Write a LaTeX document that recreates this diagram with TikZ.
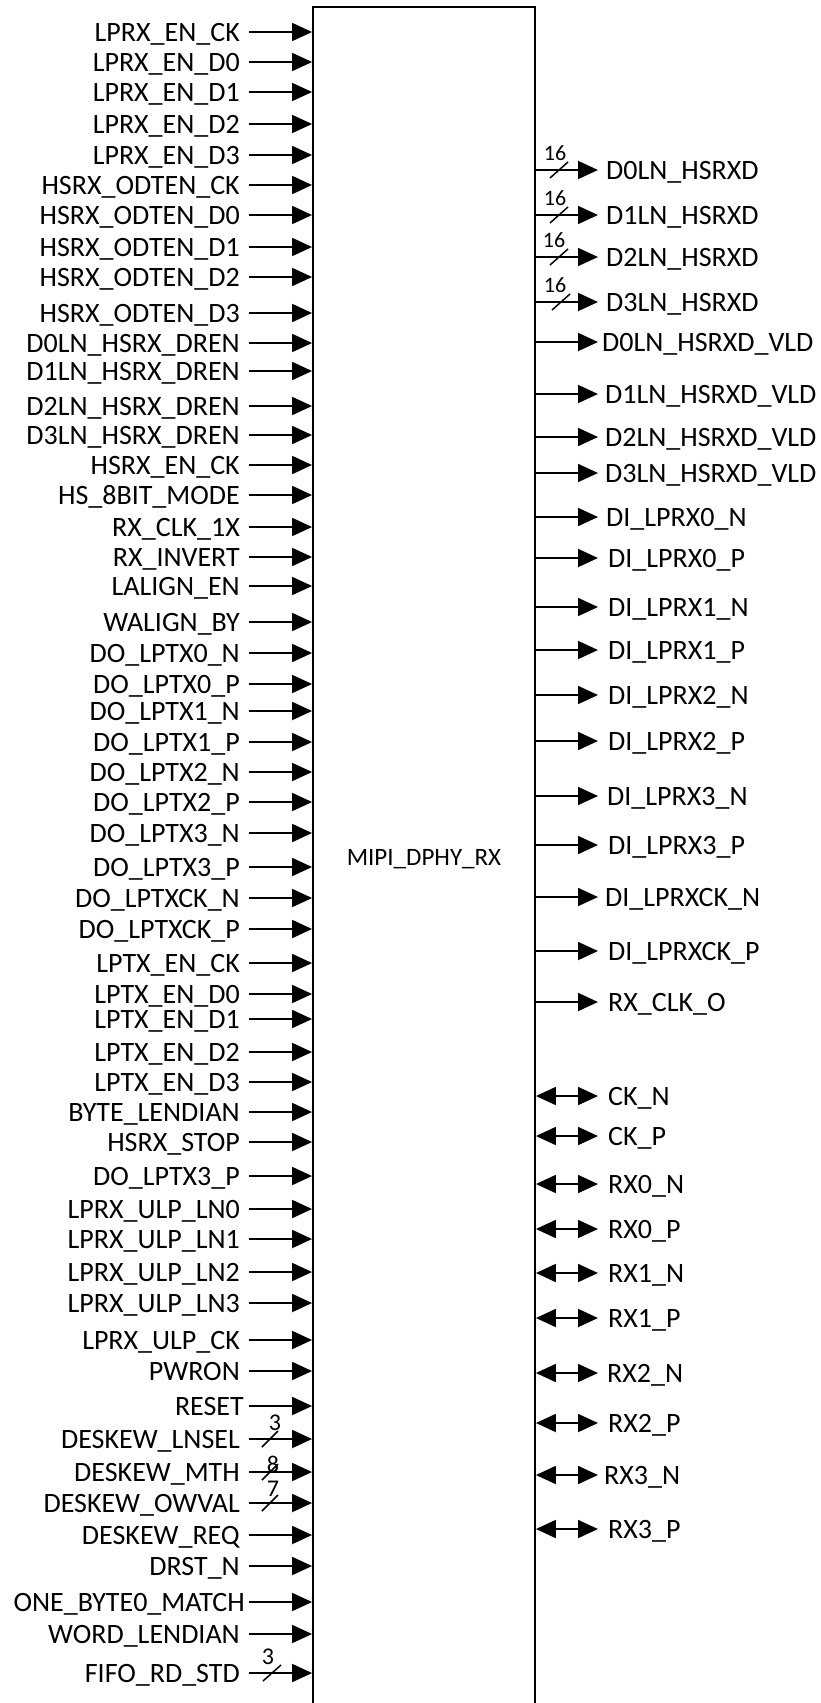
\documentclass[tikz,border=0pt]{standalone}
\usepackage{fontspec}
\setmainfont{Carlito}
\usepackage{tikz}
\usetikzlibrary{shapes,arrows,arrows.meta,positioning,calc}

\begin{document}
\begin{tikzpicture}[
    x=1pt, y=-1pt,
    font=\fontsize{28}{34}\selectfont,
    blk/.style={rectangle, draw, line width=1.8pt, minimum width=222pt, minimum height=1700pt, inner sep=0pt, font=\fontsize{25}{30}\selectfont, text height=16pt, text depth=0pt},
    inlbl/.style={anchor=east, inner xsep=9pt, inner ysep=0pt, text height=18pt, text depth=0pt},
    outlbl/.style={anchor=west, inner xsep=8pt, inner ysep=0pt, text height=18pt, text depth=0pt},
    pin/.style={line width=1.8pt, -{Triangle[length=20pt,width=18pt]}},
    biopin/.style={line width=1.8pt, {Triangle[length=20pt,width=18pt]}-{Triangle[length=20pt,width=18pt]}},
    busln/.style={line width=1.5pt},
    busw/.style={inner sep=0pt, font=\fontsize{22}{26}\selectfont, text height=14pt, text depth=0pt},
    buswl/.style={inner sep=0pt, font=\fontsize{24}{28}\selectfont, text height=15.5pt, text depth=0pt}
]
    \useasboundingbox (0,0) rectangle (821,1703);

    \node[blk] (rx) at (424,857) {MIPI\_DPHY\_RX};

    % inputs
    \node[inlbl] (i1) at (249,32) {LPRX\_EN\_CK};
    \node[inlbl] (i2) at (249,62) {LPRX\_EN\_D0};
    \node[inlbl] (i3) at (249,92) {LPRX\_EN\_D1};
    \node[inlbl] (i4) at (249,124) {LPRX\_EN\_D2};
    \node[inlbl] (i5) at (249,155) {LPRX\_EN\_D3};
    \node[inlbl] (i6) at (249,185) {HSRX\_ODTEN\_CK};
    \node[inlbl] (i7) at (249,215) {HSRX\_ODTEN\_D0};
    \node[inlbl] (i8) at (249,247) {HSRX\_ODTEN\_D1};
    \node[inlbl] (i9) at (249,277) {HSRX\_ODTEN\_D2};
    \node[inlbl] (i10) at (249,313) {HSRX\_ODTEN\_D3};
    \node[inlbl] (i11) at (249,343) {D0LN\_HSRX\_DREN};
    \node[inlbl] (i12) at (249,371) {D1LN\_HSRX\_DREN};
    \node[inlbl] (i13) at (249,406) {D2LN\_HSRX\_DREN};
    \node[inlbl] (i14) at (249,435) {D3LN\_HSRX\_DREN};
    \node[inlbl] (i15) at (249,465) {HSRX\_EN\_CK};
    \node[inlbl] (i16) at (249,495) {HS\_8BIT\_MODE};
    \node[inlbl] (i17) at (249,527) {RX\_CLK\_1X};
    \node[inlbl] (i18) at (249,557) {RX\_INVERT};
    \node[inlbl] (i19) at (249,586) {LALIGN\_EN};
    \node[inlbl] (i20) at (249,622) {WALIGN\_BY};
    \node[inlbl] (i21) at (249,653) {DO\_LPTX0\_N};
    \node[inlbl] (i22) at (249,684) {DO\_LPTX0\_P};
    \node[inlbl] (i23) at (249,711) {DO\_LPTX1\_N};
    \node[inlbl] (i24) at (249,742) {DO\_LPTX1\_P};
    \node[inlbl] (i25) at (249,772) {DO\_LPTX2\_N};
    \node[inlbl] (i26) at (249,802) {DO\_LPTX2\_P};
    \node[inlbl] (i27) at (249,833) {DO\_LPTX3\_N};
    \node[inlbl] (i28) at (249,867) {DO\_LPTX3\_P};
    \node[inlbl] (i29) at (249,898) {DO\_LPTXCK\_N};
    \node[inlbl] (i30) at (249,929) {DO\_LPTXCK\_P};
    \node[inlbl] (i31) at (249,963) {LPTX\_EN\_CK};
    \node[inlbl] (i32) at (249,994) {LPTX\_EN\_D0};
    \node[inlbl] (i33) at (249,1019) {LPTX\_EN\_D1};
    \node[inlbl] (i34) at (249,1052) {LPTX\_EN\_D2};
    \node[inlbl] (i35) at (249,1082) {LPTX\_EN\_D3};
    \node[inlbl] (i36) at (249,1112) {BYTE\_LENDIAN};
    \node[inlbl] (i37) at (249,1142) {HSRX\_STOP};
    \node[inlbl] (i38) at (249,1176) {DO\_LPTX3\_P};
    \node[inlbl] (i39) at (249,1209) {LPRX\_ULP\_LN0};
    \node[inlbl] (i40) at (249,1239) {LPRX\_ULP\_LN1};
    \node[inlbl] (i41) at (249,1272) {LPRX\_ULP\_LN2};
    \node[inlbl] (i42) at (249,1303) {LPRX\_ULP\_LN3};
    \node[inlbl] (i43) at (249,1340) {LPRX\_ULP\_CK};
    \node[inlbl] (i44) at (249,1371) {PWRON};
    \node[inlbl, inner xsep=5pt] (i45) at (249,1406) {RESET};
    \node[inlbl] (i46) at (249,1439) {DESKEW\_LNSEL};
    \node[inlbl] (i47) at (249,1472) {DESKEW\_MTH};
    \node[inlbl] (i48) at (249,1503) {DESKEW\_OWVAL};
    \node[inlbl] (i49) at (249,1535) {DESKEW\_REQ};
    \node[inlbl] (i50) at (249,1566) {DRST\_N};
    \node[inlbl, inner xsep=4pt] (i51) at (249,1602) {ONE\_BYTE0\_MATCH};
    \node[inlbl] (i52) at (249,1634) {WORD\_LENDIAN};
    \node[inlbl] (i53) at (249,1673) {FIFO\_RD\_STD};

    \draw[pin] (i1) -- (i1 -| rx.west);
    \draw[pin] (i2) -- (i2 -| rx.west);
    \draw[pin] (i3) -- (i3 -| rx.west);
    \draw[pin] (i4) -- (i4 -| rx.west);
    \draw[pin] (i5) -- (i5 -| rx.west);
    \draw[pin] (i6) -- (i6 -| rx.west);
    \draw[pin] (i7) -- (i7 -| rx.west);
    \draw[pin] (i8) -- (i8 -| rx.west);
    \draw[pin] (i9) -- (i9 -| rx.west);
    \draw[pin] (i10) -- (i10 -| rx.west);
    \draw[pin] (i11) -- (i11 -| rx.west);
    \draw[pin] (i12) -- (i12 -| rx.west);
    \draw[pin] (i13) -- (i13 -| rx.west);
    \draw[pin] (i14) -- (i14 -| rx.west);
    \draw[pin] (i15) -- (i15 -| rx.west);
    \draw[pin] (i16) -- (i16 -| rx.west);
    \draw[pin] (i17) -- (i17 -| rx.west);
    \draw[pin] (i18) -- (i18 -| rx.west);
    \draw[pin] (i19) -- (i19 -| rx.west);
    \draw[pin] (i20) -- (i20 -| rx.west);
    \draw[pin] (i21) -- (i21 -| rx.west);
    \draw[pin] (i22) -- (i22 -| rx.west);
    \draw[pin] (i23) -- (i23 -| rx.west);
    \draw[pin] (i24) -- (i24 -| rx.west);
    \draw[pin] (i25) -- (i25 -| rx.west);
    \draw[pin] (i26) -- (i26 -| rx.west);
    \draw[pin] (i27) -- (i27 -| rx.west);
    \draw[pin] (i28) -- (i28 -| rx.west);
    \draw[pin] (i29) -- (i29 -| rx.west);
    \draw[pin] (i30) -- (i30 -| rx.west);
    \draw[pin] (i31) -- (i31 -| rx.west);
    \draw[pin] (i32) -- (i32 -| rx.west);
    \draw[pin] (i33) -- (i33 -| rx.west);
    \draw[pin] (i34) -- (i34 -| rx.west);
    \draw[pin] (i35) -- (i35 -| rx.west);
    \draw[pin] (i36) -- (i36 -| rx.west);
    \draw[pin] (i37) -- (i37 -| rx.west);
    \draw[pin] (i38) -- (i38 -| rx.west);
    \draw[pin] (i39) -- (i39 -| rx.west);
    \draw[pin] (i40) -- (i40 -| rx.west);
    \draw[pin] (i41) -- (i41 -| rx.west);
    \draw[pin] (i42) -- (i42 -| rx.west);
    \draw[pin] (i43) -- (i43 -| rx.west);
    \draw[pin] (i44) -- (i44 -| rx.west);
    \draw[pin] (i45) -- (i45 -| rx.west);
    \draw[pin] (i46) -- (i46 -| rx.west);
    \draw[pin] (i47) -- (i47 -| rx.west);
    \draw[pin] (i48) -- (i48 -| rx.west);
    \draw[pin] (i49) -- (i49 -| rx.west);
    \draw[pin] (i50) -- (i50 -| rx.west);
    \draw[pin] (i51) -- (i51 -| rx.west);
    \draw[pin] (i52) -- (i52 -| rx.west);
    \draw[pin] (i53) -- (i53 -| rx.west);

    % input bus widths
    \draw[busln] (262,1447) -- (278,1431);
    \node[buswl] (w46) at (275,1423) {3};
    \draw[busln] (262,1480) -- (278,1464);
    \node[buswl] (w47) at (273,1465) {8};
    \draw[busln] (262,1511) -- (278,1495);
    \node[buswl] (w48) at (273,1489) {7};
    \draw[busln] (263,1681) -- (281,1665);
    \node[buswl] (w53) at (268,1657) {3};

    % outputs
    \node[outlbl] (o1) at (598,170) {D0LN\_HSRXD};
    \node[outlbl] (o2) at (598,215) {D1LN\_HSRXD};
    \node[outlbl] (o3) at (598,257) {D2LN\_HSRXD};
    \node[outlbl] (o4) at (598,302) {D3LN\_HSRXD};
    \node[outlbl, inner xsep=4pt] (o5) at (598,342) {D0LN\_HSRXD\_VLD};
    \node[outlbl, inner xsep=7pt] (o6) at (598,394) {D1LN\_HSRXD\_VLD};
    \node[outlbl, inner xsep=7pt] (o7) at (598,437) {D2LN\_HSRXD\_VLD};
    \node[outlbl, inner xsep=7pt] (o8) at (598,473) {D3LN\_HSRXD\_VLD};
    \node[outlbl] (o9) at (598,517) {DI\_LPRX0\_N};
    \node[outlbl, inner xsep=10pt] (o10) at (598,558) {DI\_LPRX0\_P};
    \node[outlbl, inner xsep=10pt] (o11) at (598,607) {DI\_LPRX1\_N};
    \node[outlbl, inner xsep=10pt] (o12) at (598,650) {DI\_LPRX1\_P};
    \node[outlbl, inner xsep=10pt] (o13) at (598,695) {DI\_LPRX2\_N};
    \node[outlbl, inner xsep=10pt] (o14) at (598,741) {DI\_LPRX2\_P};
    \node[outlbl, inner xsep=9pt] (o15) at (598,796) {DI\_LPRX3\_N};
    \node[outlbl, inner xsep=10pt] (o16) at (598,845) {DI\_LPRX3\_P};
    \node[outlbl, inner xsep=7pt] (o17) at (598,897) {DI\_LPRXCK\_N};
    \node[outlbl, inner xsep=10pt] (o18) at (598,951) {DI\_LPRXCK\_P};
    \node[outlbl, inner xsep=10pt] (o19) at (598,1002) {RX\_CLK\_O};

    \draw[pin] (o1 -| rx.east) -- (o1);
    \draw[pin] (o2 -| rx.east) -- (o2);
    \draw[pin] (o3 -| rx.east) -- (o3);
    \draw[pin] (o4 -| rx.east) -- (o4);
    \draw[pin] (o5 -| rx.east) -- (o5);
    \draw[pin] (o6 -| rx.east) -- (o6);
    \draw[pin] (o7 -| rx.east) -- (o7);
    \draw[pin] (o8 -| rx.east) -- (o8);
    \draw[pin] (o9 -| rx.east) -- (o9);
    \draw[pin] (o10 -| rx.east) -- (o10);
    \draw[pin] (o11 -| rx.east) -- (o11);
    \draw[pin] (o12 -| rx.east) -- (o12);
    \draw[pin] (o13 -| rx.east) -- (o13);
    \draw[pin] (o14 -| rx.east) -- (o14);
    \draw[pin] (o15 -| rx.east) -- (o15);
    \draw[pin] (o16 -| rx.east) -- (o16);
    \draw[pin] (o17 -| rx.east) -- (o17);
    \draw[pin] (o18 -| rx.east) -- (o18);
    \draw[pin] (o19 -| rx.east) -- (o19);

    % output bus widths
    \draw[busln] (550,178) -- (568,162);
    \node[busw] (w1) at (555,153) {16};
    \draw[busln] (550,223) -- (568,207);
    \node[busw] (w2) at (555,198) {16};
    \draw[busln] (550,265) -- (568,249);
    \node[busw] (w3) at (554,240) {16};
    \draw[busln] (552,310) -- (570,294);
    \node[busw] (w4) at (555,285) {16};

    % bidirectional pads
    \node[outlbl, inner xsep=10pt] (b1) at (598,1096) {CK\_N};
    \node[outlbl, inner xsep=10pt] (b2) at (598,1136) {CK\_P};
    \node[outlbl, inner xsep=10pt] (b3) at (598,1184) {RX0\_N};
    \node[outlbl, inner xsep=10pt] (b4) at (598,1229) {RX0\_P};
    \node[outlbl, inner xsep=10pt] (b5) at (598,1273) {RX1\_N};
    \node[outlbl, inner xsep=10pt] (b6) at (598,1318) {RX1\_P};
    \node[outlbl, inner xsep=9pt] (b7) at (598,1373) {RX2\_N};
    \node[outlbl, inner xsep=10pt] (b8) at (598,1423) {RX2\_P};
    \node[outlbl, inner xsep=6pt] (b9) at (598,1475) {RX3\_N};
    \node[outlbl, inner xsep=10pt] (b10) at (598,1529) {RX3\_P};

    \draw[biopin] (b1 -| rx.east) -- (b1);
    \draw[biopin] (b2 -| rx.east) -- (b2);
    \draw[biopin] (b3 -| rx.east) -- (b3);
    \draw[biopin] (b4 -| rx.east) -- (b4);
    \draw[biopin] (b5 -| rx.east) -- (b5);
    \draw[biopin] (b6 -| rx.east) -- (b6);
    \draw[biopin] (b7 -| rx.east) -- (b7);
    \draw[biopin] (b8 -| rx.east) -- (b8);
    \draw[biopin] (b9 -| rx.east) -- (b9);
    \draw[biopin] (b10 -| rx.east) -- (b10);
\end{tikzpicture}
\end{document}
